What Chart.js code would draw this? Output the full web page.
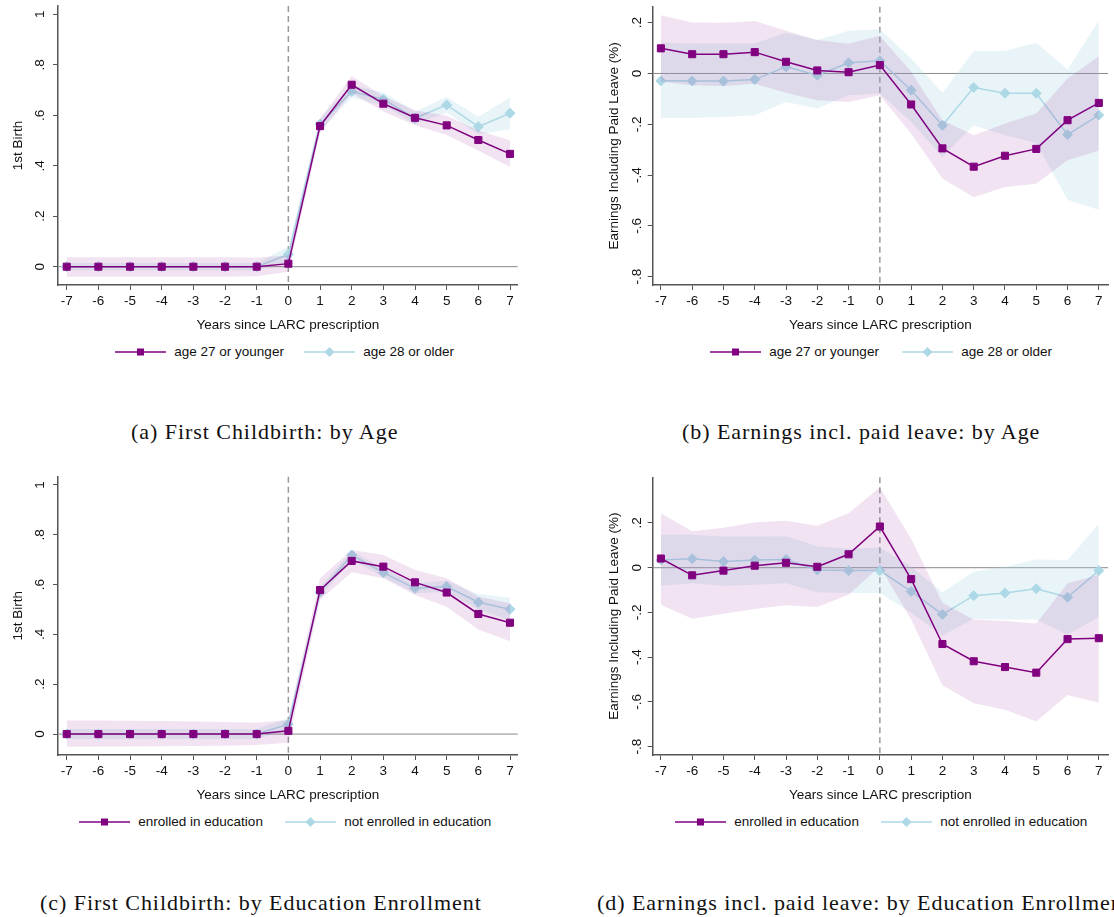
<!DOCTYPE html>
<html><head><meta charset="utf-8">
<script src="https://cdn.jsdelivr.net/npm/chart.js@4.4.1/dist/chart.umd.min.js"></script>
<style>
html,body{margin:0;padding:0;background:#fff;}
#wrap{position:relative;width:1114px;height:917px;overflow:hidden;background:#fff;}
canvas{position:absolute;}
.legend{position:absolute;display:flex;align-items:center;font:13.5px "Liberation Sans",Arial,sans-serif;color:#111;white-space:nowrap;height:16px;}
.legend svg{display:block;margin-right:8.3px;}
.legend .item{display:flex;align-items:center;}
.cap{position:absolute;font:22px "Liberation Serif","Times New Roman",serif;letter-spacing:0.95px;color:#111;white-space:nowrap;line-height:26px;}
</style></head>
<body><div id="wrap">
<canvas id="ca" width="530" height="340" style="left:0px;top:0px"></canvas>
<canvas id="cb" width="524" height="340" style="left:590px;top:0px"></canvas>
<canvas id="cc" width="530" height="340" style="left:0px;top:470px"></canvas>
<canvas id="cd" width="524" height="340" style="left:590px;top:470px"></canvas>
<div class="legend" id="la" style="left:115px;top:343.7px"></div>
<div class="legend" id="lb" style="left:710px;top:343.7px"></div>
<div class="legend" id="lc" style="left:79px;top:813.7px"></div>
<div class="legend" id="ld" style="left:675px;top:813.7px"></div>
<div class="cap" style="left:131px;top:419px">(a) First Childbirth: by Age</div>
<div class="cap" style="left:682px;top:419px">(b) Earnings incl. paid leave: by Age</div>
<div class="cap" style="left:40px;top:890px">(c) First Childbirth: by Education Enrollment</div>
<div class="cap" style="left:597px;top:890px">(d) Earnings incl. paid leave: by Education Enrollment</div>
</div>
<script>
// ---------- data ----------
const years = [-7,-6,-5,-4,-3,-2,-1,0,1,2,3,4,5,6,7];
const birthTicks = [0,0.2,0.4,0.6,0.8,1];
const earnTicks = [-0.8,-0.6,-0.4,-0.2,0,0.2];
const ageLabels = ['age 27 or younger','age 28 or older'];
const eduLabels = ['enrolled in education','not enrolled in education'];
const xTitle = 'Years since LARC prescription';
const birthTitle = '1st Birth';
const earnTitle = 'Earnings Including Paid Leave (%)';

// (a) first birth by age
const aYoungEst = [0,0,0,0,0,0,0,0.012,0.557,0.721,0.646,0.590,0.560,0.502,0.447];
const aYoungHi  = [0.037,0.037,0.037,0.037,0.037,0.037,0.035,0.045,0.585,0.756,0.675,0.620,0.598,0.540,0.500];
const aYoungLo  = [-0.040,-0.040,-0.040,-0.040,-0.040,-0.040,-0.038,-0.020,0.530,0.687,0.615,0.560,0.522,0.460,0.395];
const aOldEst   = [0,0,0,0,0,0,0,0.049,0.565,0.694,0.664,0.588,0.641,0.555,0.608];
const aOldHi    = [0.015,0.015,0.015,0.015,0.015,0.015,0.015,0.080,0.590,0.720,0.690,0.615,0.672,0.594,0.670];
const aOldLo    = [-0.015,-0.015,-0.015,-0.015,-0.015,-0.015,-0.015,0.020,0.540,0.670,0.640,0.565,0.610,0.525,0.545];

// (b) earnings by age
const bYoungEst = [0.099,0.076,0.076,0.084,0.046,0.012,0.005,0.033,-0.122,-0.295,-0.367,-0.324,-0.297,-0.184,-0.116];
const bYoungHi  = [0.229,0.201,0.200,0.207,0.168,0.132,0.117,0.149,0.007,-0.184,-0.243,-0.197,-0.158,-0.020,0.068];
const bYoungLo  = [-0.033,-0.046,-0.050,-0.040,-0.076,-0.105,-0.112,-0.086,-0.237,-0.414,-0.487,-0.447,-0.434,-0.342,-0.303];
const bOldEst   = [-0.029,-0.030,-0.030,-0.024,0.026,-0.007,0.042,0.050,-0.066,-0.204,-0.055,-0.078,-0.078,-0.241,-0.164];
const bOldHi    = [0.121,0.118,0.118,0.118,0.160,0.132,0.168,0.174,0.059,-0.076,0.089,0.089,0.121,0.016,0.208];
const bOldLo    = [-0.175,-0.175,-0.171,-0.164,-0.112,-0.138,-0.086,-0.079,-0.191,-0.329,-0.204,-0.243,-0.274,-0.497,-0.537];

// (c) first birth by education enrollment
const cEnrEst = [0,0,0,0,0,0,0,0.013,0.578,0.695,0.672,0.609,0.568,0.482,0.447];
const cEnrHi  = [0.054,0.054,0.053,0.052,0.050,0.048,0.045,0.056,0.625,0.739,0.719,0.659,0.625,0.552,0.525];
const cEnrLo  = [-0.051,-0.051,-0.050,-0.049,-0.048,-0.047,-0.044,-0.035,0.538,0.649,0.625,0.558,0.511,0.420,0.373];
const cNotEst = [0,0,0,0,0,0,0,0.040,0.569,0.719,0.648,0.585,0.592,0.529,0.501];
const cNotHi  = [0.020,0.020,0.020,0.020,0.020,0.020,0.020,0.065,0.590,0.735,0.665,0.605,0.615,0.562,0.548];
const cNotLo  = [-0.020,-0.020,-0.020,-0.020,-0.020,-0.020,-0.020,0.015,0.550,0.700,0.630,0.565,0.570,0.500,0.455];

// (d) earnings by education enrollment
const dEnrEst = [0.041,-0.034,-0.013,0.009,0.022,0.004,0.060,0.184,-0.051,-0.341,-0.418,-0.444,-0.469,-0.319,-0.315];
const dEnrHi  = [0.243,0.163,0.178,0.203,0.210,0.188,0.243,0.360,0.129,-0.157,-0.231,-0.238,-0.249,-0.069,-0.032];
const dEnrLo  = [-0.165,-0.228,-0.206,-0.184,-0.168,-0.176,-0.121,0.005,-0.231,-0.525,-0.606,-0.635,-0.687,-0.569,-0.603];
const dNotEst = [0.034,0.040,0.028,0.034,0.037,-0.010,-0.013,-0.013,-0.106,-0.209,-0.125,-0.113,-0.094,-0.132,-0.013];
const dNotHi  = [0.147,0.147,0.140,0.140,0.141,0.096,0.085,0.090,0.004,-0.110,-0.018,0.004,0.037,0.034,0.196];
const dNotLo  = [-0.081,-0.069,-0.081,-0.076,-0.069,-0.110,-0.113,-0.113,-0.201,-0.304,-0.228,-0.231,-0.231,-0.300,-0.220];

// ---------- styling ----------
const PURPLE = '#800080';
const BLUE = '#add8e6';
const PURPLE_BAND = 'rgba(128,0,128,0.11)';
const BLUE_BAND = 'rgba(173,216,230,0.27)';
const AXIS = '#555555';
const FONT = '"Liberation Sans", Arial, sans-serif';

Chart.defaults.font.family = FONT;
Chart.defaults.font.size = 13.5;
Chart.defaults.color = '#111';

function fmt(v) {
  const r = Math.round(v * 10) / 10;
  if (r === 0) return '0';
  if (Math.abs(r) === 1) return String(r);
  const s = Math.abs(r).toFixed(1).replace(/^0/, '');
  return (r < 0 ? '-' : '') + s;
}
function pts(arr) { return years.map((x, i) => ({x: x, y: arr[i]})); }

const refLines = {
  id: 'refLines',
  beforeDatasetsDraw(chart) {
    const {ctx, chartArea: a, scales: {x, y}} = chart;
    ctx.save();
    const y0 = y.getPixelForValue(0);
    ctx.strokeStyle = '#8a8a8a';
    ctx.lineWidth = 1;
    ctx.beginPath(); ctx.moveTo(a.left, y0); ctx.lineTo(a.right, y0); ctx.stroke();
    const x0 = x.getPixelForValue(0);
    ctx.strokeStyle = '#9a9a9a';
    ctx.lineWidth = 1.5;
    ctx.setLineDash([6, 4]);
    ctx.beginPath(); ctx.moveTo(x0, a.top); ctx.lineTo(x0, a.bottom); ctx.stroke();
    ctx.restore();
  }
};

function makeChart(id, p) {
  const lineOpts = (data, color, style) => ({
    data: pts(data), borderColor: color, backgroundColor: color, borderWidth: 1.5,
    pointStyle: style, pointRadius: 5, pointBorderWidth: 1, pointBorderColor: color,
    pointBackgroundColor: color, fill: false, tension: 0
  });
  const bandOpts = (data, fill, color) => ({
    data: pts(data), borderWidth: 0, borderColor: 'rgba(0,0,0,0)', pointRadius: 0,
    fill: fill, backgroundColor: color, tension: 0
  });
  return new Chart(document.getElementById(id), {
    type: 'line',
    data: { datasets: [
      lineOpts(p.est1, PURPLE, 'rect'),
      bandOpts(p.hi1, '+1', PURPLE_BAND),
      bandOpts(p.lo1, false, PURPLE_BAND),
      lineOpts(p.est2, BLUE, 'rectRot'),
      bandOpts(p.hi2, '+1', BLUE_BAND),
      bandOpts(p.lo2, false, BLUE_BAND)
    ]},
    options: {
      responsive: false, animation: false, events: [],
      layout: { padding: { left: 0, top: p.top, right: p.right, bottom: 0 } },
      plugins: { legend: { display: false }, tooltip: { enabled: false } },
      scales: {
        x: {
          type: 'linear', min: p.xmin, max: p.xmax,
          afterBuildTicks: s => { s.ticks = years.map(v => ({value: v})); },
          afterFit: s => { s.height = 55; s.paddingLeft = 0; s.paddingRight = 0; },
          grid: { drawOnChartArea: false, drawTicks: true, tickLength: 5, tickColor: AXIS, tickWidth: 1 },
          border: { display: true, color: AXIS, width: 1.5 },
          ticks: { padding: 3.6, autoSkip: false, maxRotation: 0, minRotation: 0, callback: v => String(v) },
          title: { display: true, text: xTitle, padding: { top: 0, bottom: 6.9 } }
        },
        y: {
          type: 'linear', min: p.ymin, max: p.ymax,
          afterBuildTicks: s => { s.ticks = p.yticks.map(v => ({value: v})); },
          afterFit: s => { s.width = p.yw; s.paddingTop = 0; s.paddingBottom = 0; },
          grid: { drawOnChartArea: false, drawTicks: true, tickLength: 5, tickColor: AXIS, tickWidth: 1 },
          border: { display: true, color: AXIS, width: 1.5 },
          ticks: { padding: p.tpad, autoSkip: false, minRotation: 90, maxRotation: 90, crossAlign: 'center', callback: v => fmt(v) },
          title: { display: true, text: p.ytitle, padding: { top: p.ytpad, bottom: 0 } }
        }
      }
    },
    plugins: [refLines]
  });
}

function makeLegend(id, labels, gap) {
  const el = document.getElementById(id);
  const sym = [
    '<svg width="51" height="12"><line x1="0" y1="6" x2="51" y2="6" stroke="' + PURPLE + '" stroke-width="1.5"/><rect x="22" y="2.5" width="7" height="7" fill="' + PURPLE + '"/></svg>',
    '<svg width="51" height="12"><line x1="0" y1="6" x2="51" y2="6" stroke="' + BLUE + '" stroke-width="1.5"/><polygon points="25.5,1 30.5,6 25.5,11 20.5,6" fill="' + BLUE + '"/></svg>'
  ];
  labels.forEach((t, i) => {
    const it = document.createElement('div');
    it.className = 'item';
    if (i > 0) it.style.marginLeft = gap + 'px';
    it.innerHTML = sym[i];
    const sp = document.createElement('span');
    sp.textContent = t;
    it.appendChild(sp);
    el.appendChild(it);
  });
}

makeChart('ca', {est1: aYoungEst, hi1: aYoungHi, lo1: aYoungLo, est2: aOldEst, hi2: aOldHi, lo2: aOldLo,
  xmin: -7.275, xmax: 7.243, ymin: -0.0725, ymax: 1.033, yticks: birthTicks, ytitle: birthTitle,
  top: 6, right: 12.3, yw: 58, tpad: 6.9, ytpad: 10.6});
makeChart('cb', {est1: bYoungEst, hi1: bYoungHi, lo1: bYoungLo, est2: bOldEst, hi2: bOldHi, lo2: bOldLo,
  xmin: -7.262, xmax: 7.293, ymin: -0.833, ymax: 0.263, yticks: earnTicks, ytitle: earnTitle,
  top: 6.7, right: 0, yw: 62.7, tpad: 2.8, ytpad: 16.1});
makeChart('cc', {est1: cEnrEst, hi1: cEnrHi, lo1: cEnrLo, est2: cNotEst, hi2: cNotHi, lo2: cNotLo,
  xmin: -7.275, xmax: 7.243, ymin: -0.084, ymax: 1.033, yticks: birthTicks, ytitle: birthTitle,
  top: 6.7, right: 12.3, yw: 58, tpad: 6.9, ytpad: 10.6});
makeChart('cd', {est1: dEnrEst, hi1: dEnrHi, lo1: dEnrLo, est2: dNotEst, hi2: dNotHi, lo2: dNotLo,
  xmin: -7.262, xmax: 7.293, ymin: -0.837, ymax: 0.404, yticks: earnTicks, ytitle: earnTitle,
  top: 7.3, right: 0, yw: 62.7, tpad: 2.8, ytpad: 16.1});

makeLegend('la', ageLabels, 20);
makeLegend('lb', ageLabels, 23);
makeLegend('lc', eduLabels, 22);
makeLegend('ld', eduLabels, 22);
</script>
</body></html>
